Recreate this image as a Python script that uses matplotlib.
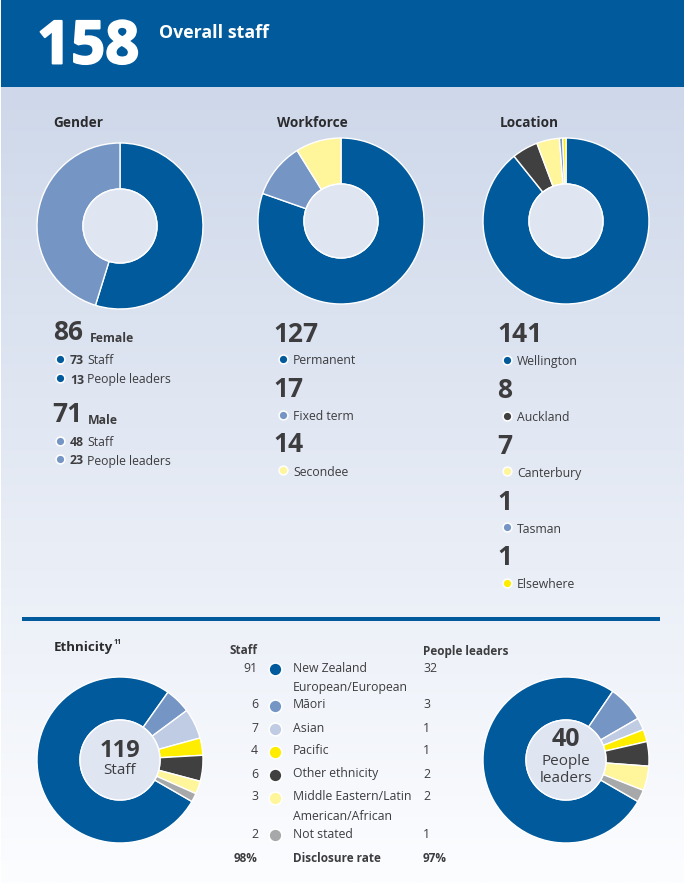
#!/usr/bin/env python

import numpy as np
import matplotlib.pyplot as plt
import matplotlib.patheffects as pe

plt.rcParams['font.family'] = ['Open Sans', 'Noto Sans', 'DejaVu Sans']

BLUE = '#005a9c'
MID = '#7596c4'
LIGHT = '#bfcce3'
YELLOW = '#ffed00'
DARK = '#404040'
PALE = '#fff59b'
GREY = '#a7a8aa'
TXT = '#3d3d3f'
HOLE = '#dfe6f2'

overall = 158

gender_vals = [86, 71]
gender_cols = [BLUE, MID]

workforce_vals = [127, 17, 14]
workforce_names = ['Permanent', 'Fixed term', 'Secondee']
workforce_cols = [BLUE, MID, PALE]

location_vals = [141, 8, 7, 1, 1]
location_names = ['Wellington', 'Auckland', 'Canterbury', 'Tasman', 'Elsewhere']
location_cols = [BLUE, DARK, PALE, MID, YELLOW]

eth_names = ['New Zealand\nEuropean/European', 'Māori', 'Asian', 'Pacific',
             'Other ethnicity', 'Middle Eastern/Latin\nAmerican/African', 'Not stated']
eth_cols = [BLUE, MID, LIGHT, YELLOW, DARK, PALE, GREY]
eth_staff = [91, 6, 7, 4, 6, 3, 2]
eth_leaders = [32, 3, 1, 1, 2, 2, 1]
eth_y = [667, 703, 727, 750, 773, 796, 833]

W, H = 684, 883
fig = plt.figure(figsize=(W / 100, H / 100), dpi=100)

# page in pixel coordinates, y going down
page = fig.add_axes([0, 0, 1, 1])
page.axis('off')

grad = np.linspace(0, 1, 256).reshape(-1, 1, 1)
top, bot = np.array([0xce, 0xd8, 0xea]) / 255, np.array([0xfc, 0xfd, 0xff]) / 255
page.imshow(top + (bot - top) * grad, extent=[1, W, H, 87],
            aspect='auto', interpolation='bilinear')
page.set_xlim(0, W)
page.set_ylim(H, 0)
page.fill_between([1, W], 0, 87, color=BLUE, lw=0)
page.fill_between([22, 660], 617, 621, color=BLUE, lw=0)


def donut(vals, cols, cx, cy, start=90, R=83, r=37):
    ax = fig.add_axes([(cx - R - 1) / W, 1 - (cy + R + 1) / H, (2 * R + 2) / W, (2 * R + 2) / H])
    ax.pie(vals, colors=cols, startangle=start, counterclock=False, radius=R / (R + 1),
           wedgeprops=dict(width=(R - r) / (R + 1), edgecolor='white', linewidth=1.0))
    ax.add_patch(plt.Circle((0, 0), r / (R + 1), fc=HOLE, ec='white', lw=1.0, zorder=5))
    ax.set_xlim(-1, 1)
    ax.set_ylim(-1, 1)
    ax.set_aspect('equal')
    ax.patch.set_alpha(0)
    return ax


def dot(x, y, col, s=40):
    page.scatter([x], [y], s=s, c=col, edgecolors='white', linewidths=1.1, zorder=3)


def label(x, y, s, size=8.8, weight='normal', ha='left', col=TXT):
    return page.text(x, y, s, fontsize=size, fontweight=weight, ha=ha, va='center', color=col, zorder=4)


donut(gender_vals, gender_cols, 120, 226)
donut(workforce_vals, workforce_cols, 341, 221)
donut(location_vals, location_cols, 566, 221)
donut(eth_staff, eth_cols, 120, 760, start=-30, r=40)
donut(eth_leaders, eth_cols, 566, 760, start=-30, r=40)

# second overlay so the centre labels sit on top of the donuts
over = fig.add_axes([0, 0, 1, 1])
over.set_xlim(0, W)
over.set_ylim(H, 0)
over.axis('off')

# header
big = label(37, 48, str(overall), size=43, weight='bold', col='white')
big.set_path_effects([pe.withStroke(linewidth=1.4, foreground='white')])
label(159, 33, 'Overall staff', size=12.8, weight='bold', col='white')

for x, name in [(53, 'Gender'), (277, 'Workforce'), (500, 'Location')]:
    label(x, 123, name, size=9.8, weight='bold', col='#2b2b2d')

# gender figures
label(53, 333, str(gender_vals[0]), size=19, weight='bold')
label(90, 339, 'Female', size=8.8, weight='bold')
dot(60, 359, BLUE)
label(70, 361, '73', weight='bold')
label(87, 361, 'Staff')
dot(60, 378, BLUE)
label(70, 380, '13', weight='bold')
label(87, 380, 'People leaders')
label(52, 415, str(gender_vals[1]), size=19, weight='bold')
label(88, 421, 'Male', size=8.8, weight='bold')
dot(60, 441, MID)
label(70, 443, '48', weight='bold')
label(87, 443, 'Staff')
dot(60, 459, MID)
label(70, 461, '23', weight='bold')
label(87, 461, 'People leaders')

# workforce and location figures
for i, (v, n) in enumerate(zip(workforce_vals, workforce_names)):
    y = 334 + 55.5 * i
    label(273, y, str(v), size=19, weight='bold')
    dot(283, y + 25, workforce_cols[i])
    label(293, y + 27, n)

for i, (v, n) in enumerate(zip(location_vals, location_names)):
    y = 335 + 55.7 * i
    label(497, y, str(v), size=19, weight='bold')
    dot(507, y + 25, location_cols[i])
    label(517, y + 27, n)

# ethnicity
label(54, 647, 'Ethnicity', size=9.6, weight='bold', col='#2b2b2d')
label(114, 642, '11', size=5, weight='bold', col='#2b2b2d')
label(230, 651, 'Staff', size=8.5, weight='bold')
label(423, 651, 'People leaders', size=8.5, weight='bold')

for i, n in enumerate(eth_names):
    y = eth_y[i]
    label(258, y + 1, str(eth_staff[i]), ha='right')
    dot(275, y + 2 + (i == 1), eth_cols[i], 85)
    parts = n.split('\n')
    label(293, y + 1, parts[0])
    if len(parts) > 1:
        label(293, y + 20, parts[1])
    label(423, y + 1, str(eth_leaders[i]))

label(258, 858, '98%', ha='right', weight='bold', size=8.5)
label(293, 858, 'Disclosure rate', weight='bold', size=8.5)
label(423, 858, '97%', weight='bold', size=8.5)

over.text(120, 751, '119', fontsize=17, fontweight='bold', ha='center', va='center', color=TXT)
over.text(120, 771, 'Staff', fontsize=11, ha='center', va='center', color=TXT)
over.text(566, 739, '40', fontsize=18, fontweight='bold', ha='center', va='center', color=TXT)
over.text(566, 770, 'People\nleaders', fontsize=11, ha='center', va='center', color=TXT,
          linespacing=1.15)

fig.savefig('out.png', dpi=100)
